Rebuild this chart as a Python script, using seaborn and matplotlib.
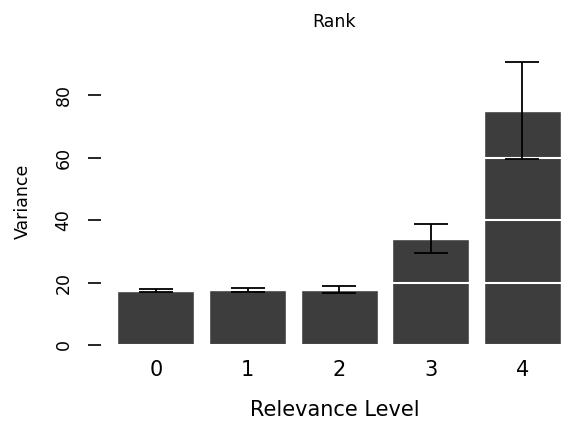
import matplotlib
matplotlib.use("Agg")
import matplotlib.pyplot as plt
import seaborn as sns
import numpy as np
import pandas as pd

levels = ["0", "1", "2", "3", "4"]
variance = [17.3, 17.6, 17.6, 33.9, 74.9]
err_low = [16.9, 17.1, 16.6, 29.4, 59.5]
err_high = [17.9, 18.1, 18.9, 38.7, 90.6]
yticks = [0, 20, 40, 60, 80]

sns.set_style("white")
plt.rcParams['font.family'] = ['DejaVu Sans']
plt.rcParams['text.color'] = 'black'
plt.rcParams['axes.labelcolor'] = 'black'
plt.rcParams['xtick.color'] = 'black'
plt.rcParams['ytick.color'] = 'black'

df = pd.DataFrame({"Relevance Level": levels, "Variance": variance})

fig = plt.figure(figsize=(5.65, 4.26), dpi=100)
W, H = 565, 426
ax_left, ax_right = 101, 568
ax_bottom, ax_top = 345, 57.5
ax = fig.add_axes([ax_left / W, (H - ax_bottom) / H,
                   (ax_right - ax_left) / W, (ax_bottom - ax_top) / H])

sns.barplot(data=df, x="Relevance Level", y="Variance", color="#3d3d3d",
            saturation=1, width=0.84, errorbar=None, ax=ax, zorder=1)
for p in ax.patches:
    p.set_clip_on(False)

x = np.arange(len(levels))
v = np.array(variance)
yerr = np.vstack([v - np.array(err_low), np.array(err_high) - v])
ax.errorbar(x, v, yerr=yerr, fmt="none", ecolor="black", elinewidth=1.3,
            capsize=12.5, capthick=1.3, zorder=4, clip_on=False)

ax.set_xlim(-0.6, 4.5)
ax.set_ylim(0, 92)
ax.set_yticks(yticks)
ax.set_yticklabels([str(t) for t in yticks], rotation=90, va="center", fontsize=12.5)
ax.tick_params(axis="y", direction="out", length=9.5, width=1.2, color="black",
               left=True, pad=11)
ax.tick_params(axis="x", length=0, labelsize=15, pad=11)
ax.yaxis.grid(True, color="white", linewidth=1.5, zorder=3)
ax.xaxis.grid(False)
ax.set_axisbelow(False)
for s in ax.spines.values():
    s.set_visible(False)

ax.set_xlabel("Relevance Level", fontsize=15, labelpad=14)
ax.set_ylabel("Variance", fontsize=12.5, labelpad=16)
ax.set_title("Rank", fontsize=12.5, pad=22)

fig.savefig("out.png", dpi=100)
